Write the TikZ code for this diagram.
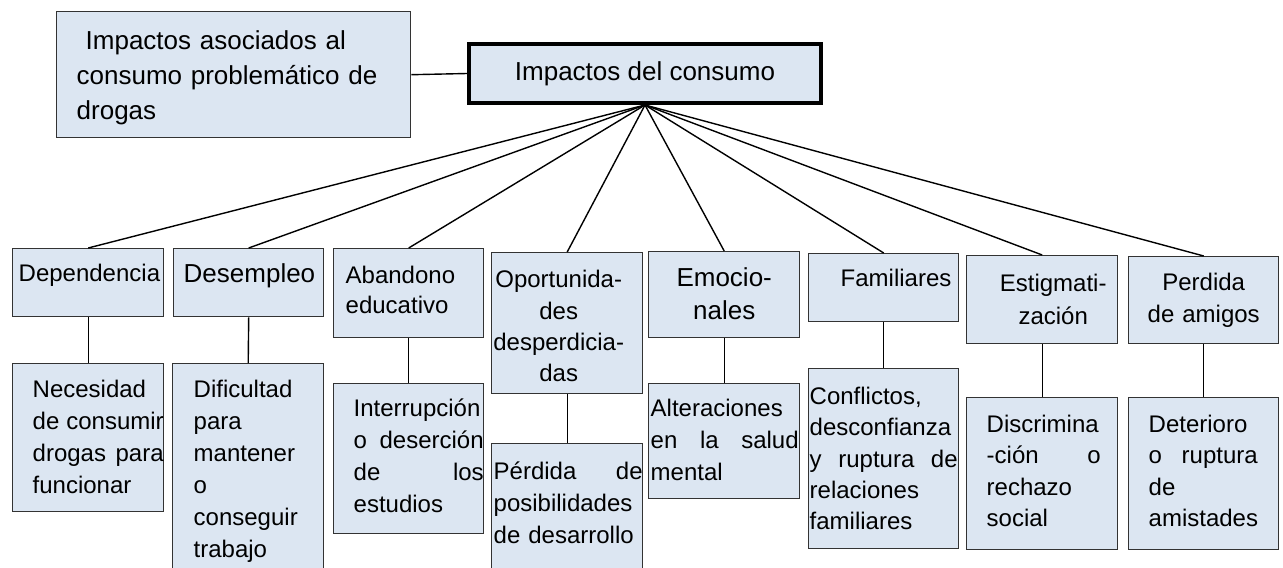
\documentclass[tikz,border=0pt]{standalone}
\usepackage{fontspec}
\setmainfont{Liberation Sans}
\usepackage{tikz}
\usepackage{xcolor}
\definecolor{boxfill}{HTML}{DCE6F2}

\begin{document}
\begin{tikzpicture}[x=0.5pt,y=-0.5pt,
  box/.style={draw=black!80,line width=0.7pt,fill=boxfill,anchor=north west,inner sep=0pt,align=left,font=\fontsize{12}{16}\selectfont},
  lpad/.style 2 args={execute at begin node={\leftskip=#1\rightskip=#2 plus 1fil}},
  cpad/.style 2 args={align=center,execute at begin node={\leftskip=#1 plus 1fil\rightskip=#2 plus 1fil}},
  mainbox/.style={draw=black,line width=2pt,fill=boxfill,minimum width=176pt,minimum height=29.5pt,font=\fontsize{13}{16}\selectfont},
  link/.style={black,line width=0.7pt}]
\useasboundingbox (0,0) rectangle (1283,567);
\node[box,font=\fontsize{13}{17.5}\selectfont,text width=177pt,text height=19pt,text depth=44pt,lpad={10pt}{0pt}] (top) at (56,11) {\hspace*{4.5pt}Impactos asociados al\\consumo problemático de\\drogas};
\node[mainbox] (main) at (645,73.5) {Impactos del consumo};
\draw[link] (top.east) -- (main.west);
\node[box,text width=75.5pt,text height=16.5pt,text depth=17.5pt,lpad={3pt}{0pt}] (dep) at (12,248) {Dependencia};
\node[box,font=\fontsize{13}{16}\selectfont,text width=75pt,text height=17pt,text depth=17pt,lpad={5pt}{0pt}] (des) at (173,248) {Desempleo};
\node[box,font=\fontsize{12}{15}\selectfont,text width=75pt,text height=17.5pt,text depth=27pt,lpad={6pt}{0pt}] (aba) at (333,248) {Abandono\\educativo};
\node[box,font=\fontsize{12}{15.7}\selectfont,text width=75.5pt,text height=17.5pt,text depth=53pt,cpad={0pt}{8.5pt}] (opo) at (491,252) {Oportunida-\\des\\desperdicia-\\das};
\node[box,font=\fontsize{13}{16.5}\selectfont,text width=75.5pt,text height=17.5pt,text depth=25.5pt,cpad={0pt}{0pt}] (emo) at (648,251) {Emocio-\\nales};
\node[box,text width=75pt,text height=16.5pt,text depth=17.5pt,lpad={16pt}{0pt}] (fam) at (808,253) {Familiares};
\node[box,font=\fontsize{12}{16.5}\selectfont,text width=75.5pt,text height=18pt,text depth=26pt,cpad={11pt}{0pt}] (est) at (966,255) {Estigmati-\\zación};
\node[box,text width=75pt,text height=17pt,text depth=26.5pt,cpad={0pt}{0pt}] (per) at (1128,256) {Perdida\\de amigos};
\draw[link] (main.south) -- (dep.north);
\draw[link] (main.south) -- (des.north);
\draw[link] (main.south) -- (aba.north);
\draw[link] (main.south) -- (opo.north);
\draw[link] (main.south) -- (emo.north);
\draw[link] (main.south) -- (fam.north);
\draw[link] (main.south) -- (est.north);
\draw[link] (main.south) -- (per.north);
\node[box,text width=75.5pt,text height=17pt,text depth=57pt,lpad={10pt}{0pt}] (nec) at (12,363) {Necesidad\\de\hfill consumir\\drogas\hfill para\\funcionar};
\node[box,text width=75.5pt,text height=17pt,text depth=88pt,lpad={10.5pt}{0pt}] (dif) at (172,363) {Dificultad\\para\\mantener\\o\\conseguir\\trabajo};
\node[box,text width=75pt,text height=16.5pt,text depth=58.5pt,lpad={10pt}{0pt}] (int) at (333,383) {Interrupción\\o\hfill deserción\\de\hfill los\\estudios};
\node[box,text width=75.5pt,text height=18pt,text depth=47pt,lpad={1pt}{0pt}] (pdd) at (491,443) {Pérdida\hfill de\\posibilidades\\de desarrollo};
\node[box,text width=75.5pt,text height=16.5pt,text depth=41pt,lpad={1pt}{0.5pt}] (alt) at (648,383) {Alteraciones\\en\hfill la\hfill salud\\mental};
\node[box,font=\fontsize{12}{15.6}\selectfont,text width=75pt,text height=18pt,text depth=72pt,lpad={0.5pt}{0.5pt}] (con) at (808,368) {Conflictos,\\desconfianza\\y\hfill ruptura\hfill de\\relaciones\\familiares};
\node[box,font=\fontsize{12}{15.6}\selectfont,text width=75.5pt,text height=17.5pt,text depth=58.5pt,lpad={10pt}{8.5pt}] (dis) at (966,397) {Discrimina\\-ción\hfill o\\rechazo\\social};
\node[box,font=\fontsize{12}{15.6}\selectfont,text width=75pt,text height=17.5pt,text depth=58.5pt,lpad={10pt}{10.5pt}] (det) at (1128,397) {Deterioro\\o\hfill ruptura\\de\\amistades};
\draw[link] (dep.south) -- (nec.north);
\draw[link] (des.south) -- (dif.north);
\draw[link] (aba.south) -- (int.north);
\draw[link] (opo.south) -- (pdd.north);
\draw[link] (emo.south) -- (alt.north);
\draw[link] (fam.south) -- (con.north);
\draw[link] (est.south) -- (dis.north);
\draw[link] (per.south) -- (det.north);
\end{tikzpicture}
\end{document}
